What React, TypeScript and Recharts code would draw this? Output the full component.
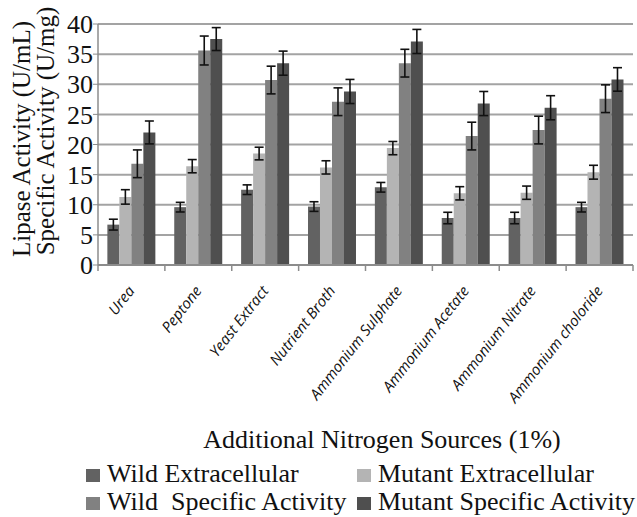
import { Bar, BarChart, CartesianGrid, ErrorBar, XAxis, YAxis } from "recharts";

const categories = [
  "Urea",
  "Peptone",
  "Yeast Extract",
  "Nutrient Broth",
  "Ammonium Sulphate",
  "Ammonium Acetate",
  "Ammonium Nitrate",
  "Ammonium choloride",
];

const wildExtra = [6.7, 9.6, 12.5, 9.7, 12.9, 7.8, 7.8, 9.6];
const wildExtraErr = [0.9, 0.8, 0.8, 0.8, 0.8, 0.95, 0.95, 0.8];
const mutantExtra = [11.3, 16.4, 18.5, 16.2, 19.4, 11.9, 12.0, 15.4];
const mutantExtraErr = [1.2, 1.1, 1.05, 1.1, 1.1, 1.1, 1.1, 1.15];
const wildSpec = [16.8, 35.6, 30.7, 27.1, 33.5, 21.4, 22.4, 27.6];
const wildSpecErr = [2.3, 2.4, 2.3, 2.3, 2.3, 2.3, 2.3, 2.3];
const mutantSpec = [22.0, 37.5, 33.5, 28.8, 37.1, 26.8, 26.1, 30.8];
const mutantSpecErr = [1.9, 1.9, 2.0, 2.0, 2.0, 2.0, 2.0, 1.95];

const yTicks = [0, 5, 10, 15, 20, 25, 30, 35, 40];

const series = [
  { key: "wildExtra", name: "Wild Extracellular", color: "#626262" },
  { key: "mutantExtra", name: "Mutant Extracellular", color: "#b4b4b4" },
  { key: "wildSpec", name: "Wild  Specific Activity", color: "#818181" },
  { key: "mutantSpec", name: "Mutant Specific Activity", color: "#4f4f4f" },
];

const data = categories.map((name, i) => ({
  name,
  wildExtra: wildExtra[i],
  wildExtraErr: wildExtraErr[i],
  mutantExtra: mutantExtra[i],
  mutantExtraErr: mutantExtraErr[i],
  wildSpec: wildSpec[i],
  wildSpecErr: wildSpecErr[i],
  mutantSpec: mutantSpec[i],
  mutantSpecErr: mutantSpecErr[i],
}));

const serif = "Liberation Serif, Times New Roman, serif";
const axisY = 265;
const band = (633 - 98) / categories.length;

function CategoryTick(props: any) {
  const { x, payload, index } = props;
  return (
    <g>
      <line x1={x - band / 2} y1={axisY} x2={x - band / 2} y2={axisY + 6} stroke="#8c8c8c" strokeWidth={1.5} />
      {index === categories.length - 1 && (
        <line x1={x + band / 2} y1={axisY} x2={x + band / 2} y2={axisY + 6} stroke="#8c8c8c" strokeWidth={1.5} />
      )}
      <g transform={`translate(${x + 4},${axisY + 26}) rotate(-52)`}>
        <text
          x={0}
          y={0}
          textAnchor="end"
          fontFamily="Open Sans, sans-serif"
          fontStyle="italic"
          fontSize={15}
          fill="#111"
        >
          {payload.value}
        </text>
      </g>
    </g>
  );
}

export default function App() {
  return (
    <div style={{ position: "absolute", left: 0, top: 0, width: 637, height: 517, background: "#fff" }}>
      <BarChart
        width={637}
        height={420}
        data={data}
        margin={{ top: 24, right: 4, bottom: 5, left: 0 }}
        barCategoryGap="14%"
        barGap={0}
      >
        <CartesianGrid vertical={false} stroke="#a3a3a3" strokeWidth={2} />
        <XAxis
          dataKey="name"
          interval={0}
          height={150}
          tickLine={false}
          axisLine={{ stroke: "#8c8c8c", strokeWidth: 2 }}
          tick={<CategoryTick />}
        />
        <YAxis
          width={98}
          domain={[0, 40]}
          ticks={yTicks}
          interval={0}
          tickSize={5}
          tickMargin={0}
          tickLine={{ stroke: "#8c8c8c" }}
          axisLine={{ stroke: "#8c8c8c", strokeWidth: 1.5 }}
          tick={{ fontFamily: serif, fontSize: 26, fill: "#111" }}
        />
        {series.map((s) => (
          <Bar key={s.key} dataKey={s.key} name={s.name} fill={s.color} isAnimationActive={false}>
            <ErrorBar dataKey={`${s.key}Err`} width={4.5} stroke="#111" strokeWidth={1.6} />
          </Bar>
        ))}
      </BarChart>
      <svg width={637} height={517} style={{ position: "absolute", left: 0, top: 0, pointerEvents: "none" }}>
        <text transform="translate(30,139) rotate(-90)" textAnchor="middle" fontFamily={serif} fontSize={25} fill="#111">
          Lipase Activity (U/mL)
        </text>
        <text transform="translate(54,131) rotate(-90)" textAnchor="middle" fontFamily={serif} fontSize={25} fill="#111">
          Specific Activity (U/mg)
        </text>
        <text x={382} y={448} textAnchor="middle" fontFamily={serif} fontSize={26} fill="#111">
          Additional Nitrogen Sources (1%)
        </text>
        {series.map((s, i) => {
          const col = i % 2;
          const row = Math.floor(i / 2);
          const sx = col === 0 ? 86 : 357;
          const by = row === 0 ? 482 : 510;
          return (
            <g key={s.key}>
              <rect x={sx} y={by - 13} width={14} height={13} fill={s.color} />
              <text x={sx + 21} y={by} fontFamily={serif} fontSize={26} fill="#111" style={{ whiteSpace: "pre" }}>
                {s.name}
              </text>
            </g>
          );
        })}
      </svg>
    </div>
  );
}
